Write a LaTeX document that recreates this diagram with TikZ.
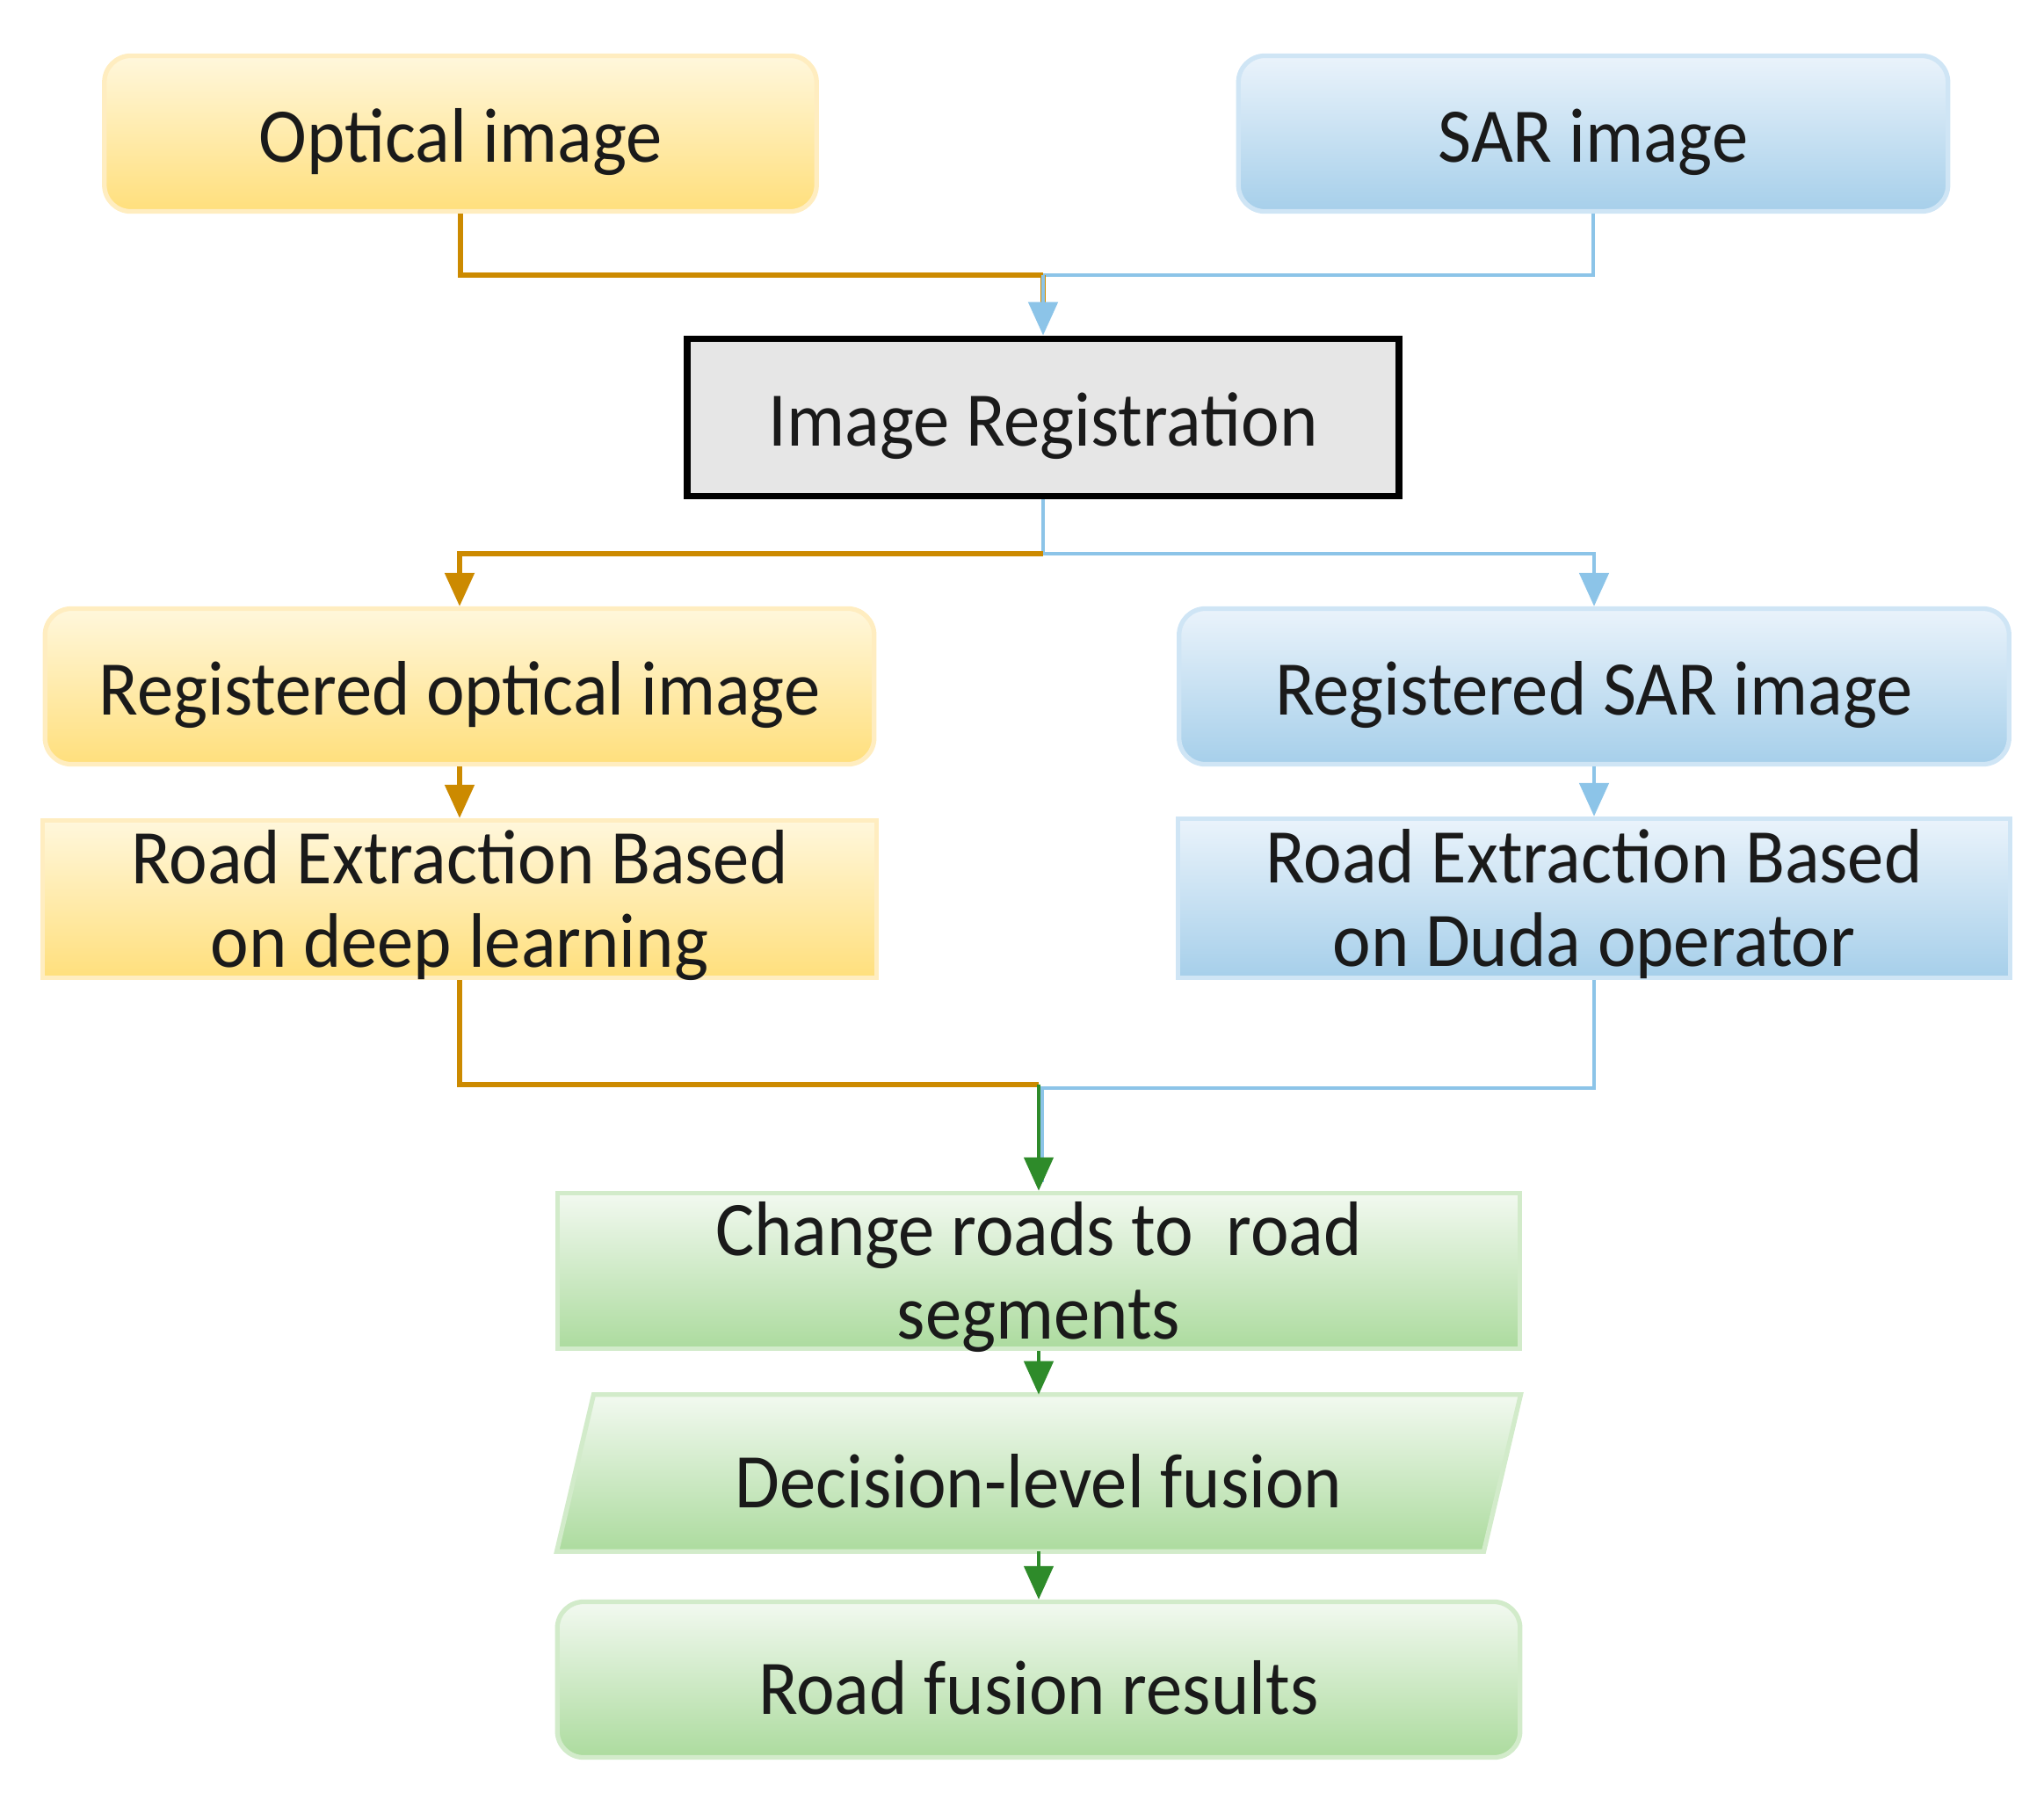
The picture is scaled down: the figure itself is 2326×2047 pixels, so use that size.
\documentclass[tikz,border=0pt]{standalone}
\usepackage{fontspec}
\setmainfont{Carlito}[FakeStretch=0.94]
\usetikzlibrary{arrows.meta,calc}
\definecolor{orl}{HTML}{CC8A00}
\definecolor{bll}{HTML}{8CC4E8}
\definecolor{grl}{HTML}{2E8B2A}
\definecolor{txt}{HTML}{1A1A1A}
\definecolor{yt}{HTML}{FFF7DC}
\definecolor{ym}{HTML}{FFEAA5}
\definecolor{yb}{HTML}{FFDF7C}
\definecolor{yd}{HTML}{FFEDC0}
\definecolor{bt}{HTML}{EAF3FB}
\definecolor{bm}{HTML}{C6E1F3}
\definecolor{bb}{HTML}{A6CFEA}
\definecolor{bd}{HTML}{CFE5F5}
\definecolor{gt}{HTML}{F2F9F0}
\definecolor{gm}{HTML}{CDE9C4}
\definecolor{gb}{HTML}{ACDB9E}
\definecolor{gd}{HTML}{D2EBCA}
\definecolor{regf}{HTML}{E6E6E6}
\tikzset{
  box/.style={minimum height=1.77cm, inner sep=0pt, align=center, text=txt,
    font=\fontsize{25}{27}\selectfont, execute at begin node={\rule{0pt}{22.5pt}}},
  twoline/.style={text height=43.8pt, text depth=0pt},
  ybox/.style={box, draw=yd, line width=1.5pt, top color=yt, middle color=ym, bottom color=yb},
  bbox/.style={box, draw=bd, line width=1.5pt, top color=bt, middle color=bm, bottom color=bb},
  gbox/.style={box, draw=gd, line width=1.5pt, top color=gt, middle color=gm, bottom color=gb},
  rnd/.style={rounded corners=0.3cm},
  tip/.style={-{Triangle[length=0.38cm,width=0.33cm]}},
  oline/.style={draw=orl, line width=1.5pt},
  bline/.style={draw=bll, line width=1.4pt},
  gline/.style={draw=grl, line width=1.3pt},
}
\begin{document}
\begin{tikzpicture}[x=0.01cm,y=-0.01cm]
\useasboundingbox (0,0) rectangle (2326,2047);

% nodes
\node[ybox, rnd, minimum width=8.10cm] (opt) at (524,152) {Optical image};
\node[bbox, rnd, minimum width=8.07cm] (sar) at (1813,152) {SAR image};
\node[box, draw=black, fill=regf, line width=2.2pt, minimum width=8.09cm, minimum height=1.79cm] (reg) at (1187,475) {Image Registration};
\node[ybox, rnd, minimum width=9.43cm] (ropt) at (523,781) {Registered optical image};
\node[bbox, rnd, minimum width=9.44cm] (rsar) at (1814,781) {Registered SAR image};
\node[ybox, twoline, minimum width=9.49cm, minimum height=1.79cm] (extl) at (523,1023) {Road Extraction Based\\on deep learning};
\node[bbox, twoline, minimum width=9.46cm, minimum height=1.81cm] (extr) at (1814,1022) {Road Extraction Based\\on Duda operator};
\node[gbox, twoline, minimum width=10.95cm] (chg) at (1182,1446) {Change roads to~ road\\segments};
\node[box, minimum width=10.95cm] (dec) at (1182,1676) {};
\shade[top color=gt, middle color=gm, bottom color=gb, draw=gd, line width=1.5pt]
  ($(dec.north west)+(42,0)$) -- (dec.north east) -- ($(dec.south east)+(-42,0)$) -- (dec.south west) -- cycle;
\node[box] (dect) at (dec.center) {Decision-level fusion};
\node[gbox, rnd, minimum width=10.95cm] (res) at (1182,1911) {Road fusion results};

% connectors
\coordinate (j1) at (1187,313);
\coordinate (j2) at (1187,630);
\coordinate (j3) at (1182,1234);
\draw[oline] (opt.south) |- (j1);
\draw[bline] (sar.south) |- (j1);
\draw[oline] (j1) -- ++(0,40);
\draw[bline, tip] (j1) -- (reg.north);

\draw[bline] (reg.south) -- (j2);
\draw[oline, tip] (j2) -| (ropt.north);
\draw[bline, tip] (j2) -| (rsar.north);

\draw[oline, tip] (ropt.south) -- (extl.north);
\draw[bline, tip] (rsar.south) -- (extr.north);

\draw[oline] (extl.south) |- (j3);
\draw[bline] (extr.south) |- ($(j3)+(0,4)$);
\draw[bline] ($(j3)+(4,4)$) -- ($(chg.north)+(4,-10)$);
\draw[gline, tip] (j3) -- (chg.north);

\draw[gline, tip] (chg.south) -- (dec.north);
\draw[gline, tip] (dec.south) -- (res.north);
\end{tikzpicture}
\end{document}
